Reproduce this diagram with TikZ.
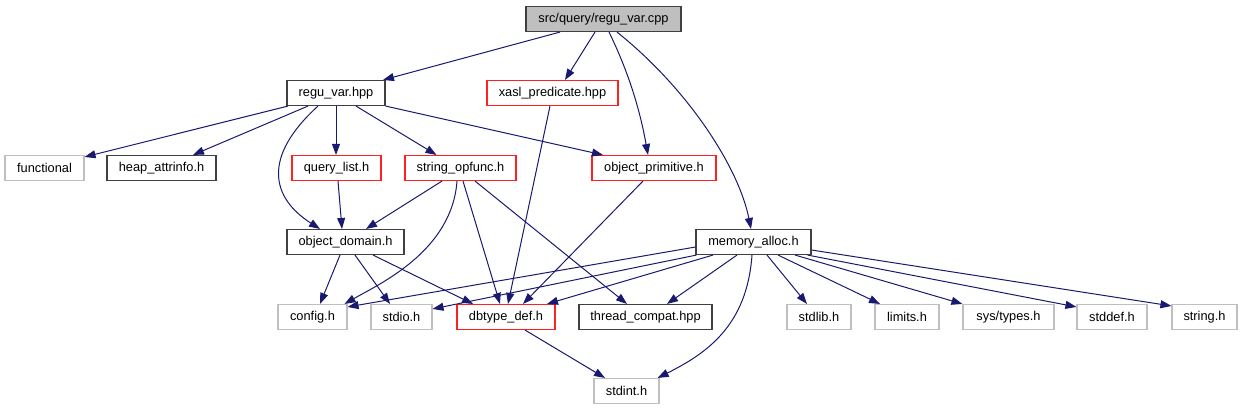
\documentclass[tikz,border=0pt]{standalone}
\usepackage{fontspec}
\setmainfont{Liberation Sans}
\usetikzlibrary{arrows.meta,calc}
\definecolor{edgec}{HTML}{191970}
\definecolor{redb}{HTML}{FF2020}
\definecolor{grayb}{HTML}{BFBFBF}
\definecolor{blackb}{HTML}{404040}
\begin{document}
\begin{tikzpicture}[x=1bp,y=-1bp,
 box/.style={draw, line width=1.1bp, minimum height=25bp, inner sep=0pt, font=\fontsize{12.8bp}{14bp}\selectfont},
 blk/.style={box, draw=blackb},
 redn/.style={box, draw=redb},
 grn/.style={box, draw=grayb},
 dep/.style={draw=edgec, line width=1bp, -{Triangle[length=11bp,width=8bp]}}]
\useasboundingbox (0,0) rectangle (1243,411);
\node[blk, fill=grayb, minimum width=155bp] (root) at (603.5,19) {src/query/regu\_var.cpp};
\node[blk, minimum width=98bp] (regu) at (336,93) {regu\_var.hpp};
\node[redn, minimum width=131bp] (xasl) at (552.5,93) {xasl\_predicate.hpp};
\node[grn, minimum width=79bp] (func) at (44.5,168) {functional};
\node[blk, minimum width=109bp] (heap) at (161.5,168) {heap\_attrinfo.h};
\node[redn, minimum width=89bp] (qlist) at (336.5,168) {query\_list.h};
\node[redn, minimum width=111bp] (sop) at (460.5,168) {string\_opfunc.h};
\node[redn, minimum width=124bp] (oprim) at (654,168) {object\_primitive.h};
\node[blk, minimum width=117bp] (odom) at (345.5,242) {object\_domain.h};
\node[blk, minimum width=115bp] (mem) at (753.5,242) {memory\_alloc.h};
\node[grn, minimum width=69bp] (conf) at (312.5,317) {config.h};
\node[grn, minimum width=61bp] (stdio) at (401.5,317) {stdio.h};
\node[redn, minimum width=98bp] (dbt) at (506,317) {dbtype\_def.h};
\node[blk, minimum width=133bp] (thr) at (645.5,317) {thread\_compat.hpp};
\node[grn, minimum width=64bp] (stdlib) at (819,317) {stdlib.h};
\node[grn, minimum width=64bp] (limits) at (907,317) {limits.h};
\node[grn, minimum width=91bp] (systypes) at (1008.5,317) {sys/types.h};
\node[grn, minimum width=70bp] (stddef) at (1112,317) {stddef.h};
\node[grn, minimum width=65bp] (strh) at (1204.5,317) {string.h};
\node[grn, minimum width=65bp] (stdint) at (626.5,391) {stdint.h};
% root edges
\draw[dep] ($(root.south)+(-43.5,0)$) -- ($(regu.north)+(47,0)$);
\draw[dep] ($(root.south)+(-8.5,0)$) -- ($(xasl.north)+(12.5,0)$);
\draw[dep] ($(root.south)+(5.5,0)$) .. controls +(22,45) and +(-7,-39) .. ($(oprim.north)+(-6,0)$);
\draw[dep] ($(root.south)+(13.5,0)$) .. controls +(73,58.5) and +(-12,-60) .. ($(mem.north)+(-2.5,0)$);
% regu_var.hpp edges
\draw[dep] ($(regu.south)+(-48,0)$) -- ($(func.north east)+(0,2)$);
\draw[dep] ($(regu.south)+(-28,0)$) -- ($(heap.north)+(31.5,0)$);
\draw[dep] (regu.south) -- ($(qlist.north)+(-0.5,0)$);
\draw[dep] ($(regu.south)+(20,0)$) -- ($(sop.north)+(-24,0)$);
\draw[dep] (regu.south east) -- ($(oprim.north)+(-51,0)$);
\draw[dep] ($(regu.south)+(-18,0)$) .. controls +(-55,50) and +(-50,-32) .. ($(odom.north)+(-25.5,0)$);
% xasl
\draw[dep] ($(xasl.south)+(-2.5,0)$) -- ($(dbt.north)+(2,0)$);
% query_list
\draw[dep] ($(qlist.south)+(1.5,0)$) -- ($(odom.north)+(-3.5,0)$);
% string_opfunc
\draw[dep] ($(sop.south)+(-18.5,0)$) -- ($(odom.north)+(20.5,0)$);
\draw[dep] ($(sop.south)+(-3.5,0)$) .. controls +(-5,70) and +(35,-20) .. ($(conf.north)+(32,0)$);
\draw[dep] ($(sop.south)+(2.5,0)$) -- ($(dbt.north)+(-6,0)$);
\draw[dep] ($(sop.south)+(14.5,0)$) -- ($(thr.north)+(-18.5,0)$);
% object_primitive
\draw[dep] ($(oprim.south)+(-11,0)$) -- ($(dbt.north)+(17,0)$);
% object_domain
\draw[dep] ($(odom.south)+(-5.5,0)$) -- ($(conf.north)+(7.5,0)$);
\draw[dep] ($(odom.south)+(9.5,0)$) -- ($(stdio.north)+(-11.5,0)$);
\draw[dep] ($(odom.south)+(27.5,0)$) -- ($(dbt.north)+(-33,0)$);
% memory_alloc
\draw[dep] ($(mem.west)+(0,5)$) -- ($(conf.north east)+(0,3)$);
\draw[dep] ($(mem.south west)+(1,0)$) -- ($(stdio.north east)+(0,5)$);
\draw[dep] ($(mem.south)+(-40.5,0)$) -- ($(dbt.north)+(41,0)$);
\draw[dep] ($(mem.south)+(-16.5,0)$) -- ($(thr.north)+(21.5,0)$);
\draw[dep] ($(mem.south)+(-1.5,0)$) .. controls +(-5,70) and +(50,-25) .. ($(stdint.north east)+(-2,0)$);
\draw[dep] ($(mem.south)+(13.5,0)$) -- ($(stdlib.north)+(-12,0)$);
\draw[dep] ($(mem.south)+(24.5,0)$) -- ($(limits.north)+(-27,0)$);
\draw[dep] ($(mem.south)+(41.5,0)$) -- (systypes.north west);
\draw[dep] ($(mem.south east)+(-4,0)$) -- ($(stddef.north west)+(0,3)$);
\draw[dep] ($(mem.east)+(0,8)$) -- ($(strh.north west)+(0,2)$);
% dbtype_def
\draw[dep] ($(dbt.south)+(19,0)$) -- ($(stdint.north)+(-21.5,0)$);
\end{tikzpicture}
\end{document}
